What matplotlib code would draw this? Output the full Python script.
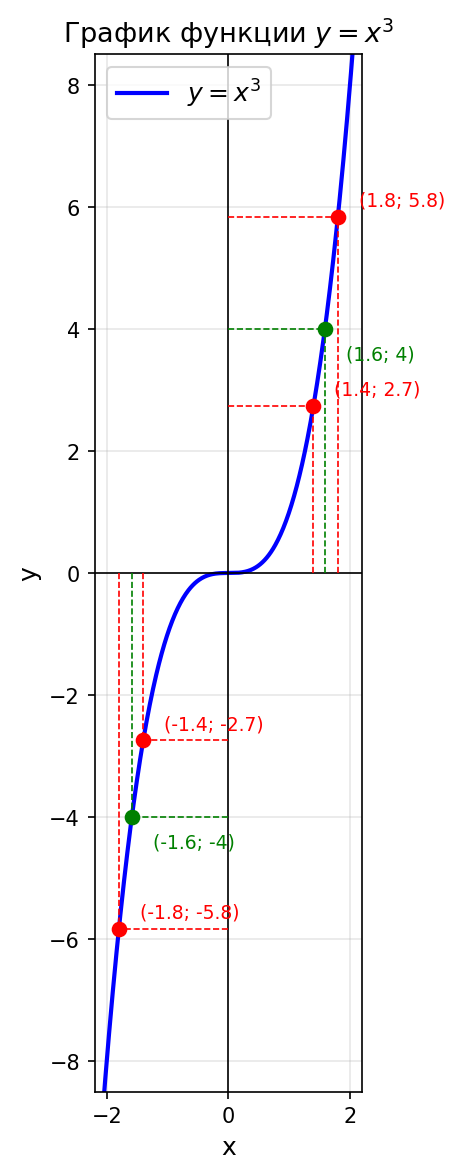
import numpy as np
import matplotlib
matplotlib.use("Agg")
import matplotlib.pyplot as plt

# curve domain
x_min, x_max = -2.2, 2.2

# marked points: x value, colour, label
point_x = [1.4, 1.8, -1.4, -1.8, np.cbrt(4), np.cbrt(-4)]
point_colors = ['red', 'red', 'red', 'red', 'green', 'green']
point_labels = ['(1.4; 2.7)', '(1.8; 5.8)', '(-1.4; -2.7)', '(-1.8; -5.8)',
                '(1.6; 4)', '(-1.6; -4)']

fig = plt.figure(figsize=(3.06, 7.833), dpi=150)
ax = fig.add_subplot(111)
fig.subplots_adjust(left=0.206, right=0.789, top=0.953, bottom=0.070)

x = np.linspace(x_min, x_max, 500)
ax.plot(x, x ** 3, color='blue', lw=2, label='$y = x^3$')

ax.axhline(0, color='black', lw=0.8)
ax.axvline(0, color='black', lw=0.8)

for px, c, lab in zip(point_x, point_colors, point_labels):
    py = px ** 3
    ax.plot([0, px], [py, py], color=c, ls='--', lw=0.8)
    ax.plot([px, px], [0, py], color=c, ls='--', lw=0.8)
    ax.plot(px, py, 'o', color=c, markersize=6.5, zorder=5)
    off = (10, 8) if c == 'red' else (10, -12)
    ax.annotate(lab, (px, py), xytext=off, textcoords='offset points',
                color=c, fontsize=9, ha='left', va='center')

ax.set_xlim(x_min, x_max)
ax.set_ylim(-8.5, 8.5)
ax.set_xticks([-2, 0, 2])
ax.set_yticks([-8, -6, -4, -2, 0, 2, 4, 6, 8])
ax.grid(True, alpha=0.3)
ax.set_xlabel('x', fontsize=12)
ax.set_ylabel('y', fontsize=12)
ax.set_title('График функции $y = x^3$', fontsize=13)
ax.legend(loc='upper left', fontsize=12)

fig.savefig('out.png', dpi=150)
